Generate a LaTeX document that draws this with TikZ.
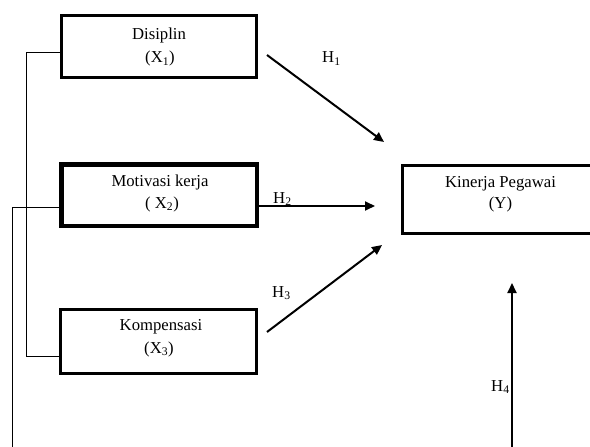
\documentclass[tikz,border=0pt]{standalone}
\usepackage{fontspec}
\setmainfont{Liberation Serif}
\usetikzlibrary{arrows.meta}
\begin{document}
\begin{tikzpicture}[x=1pt,y=-1pt,
  box/.style={draw=black,rectangle,inner sep=0pt,minimum width=195pt,minimum height=62pt},
  txt/.style={anchor=base,inner sep=0pt,font=\fontsize{16.7}{20}\selectfont},
  hlab/.style={anchor=base west,inner sep=0pt,font=\fontsize{16.7}{20}\selectfont},
  arr/.style={line width=2pt,-{Triangle[length=10pt,width=9pt]}},
  thin/.style={line width=1pt}]
\useasboundingbox (0,0) rectangle (590,447);
\clip (0,0) rectangle (590,447);
% boxes
\node[box,line width=3pt] (dis) at (159,46.5) {};
\node[box,line width=4.5pt,minimum width=195.5pt,minimum height=61.5pt] (mot) at (159,195) {};
\node[box,line width=3.3pt,minimum width=196pt,minimum height=64pt] (kom) at (158.5,341.5) {};
\node[box,line width=3.3pt,minimum width=195pt,minimum height=68pt] (kin) at (500,199.5) {};
% texts
\node[txt] (dis1) at (159,39.3) {Disiplin};
\node[txt] (dis2) at (160,62.7) {(X\textsubscript{1})};
\node[txt] (mot1) at (160,186.7) {Motivasi kerja};
\node[txt] (mot2) at (162,208.3) {( X\textsubscript{2})};
\node[txt] (kom1) at (161,330) {Kompensasi};
\node[txt] (kom2) at (159,353) {(X\textsubscript{3})};
\node[txt] (kin1) at (500.5,187) {Kinerja Pegawai};
\node[txt] (kin2) at (500.5,208) {(Y)};
% hypothesis labels
\node[hlab] (h1) at (322,63) {H\textsubscript{1}};
\node[hlab] (h2) at (273,203) {H\textsubscript{2}};
\node[hlab] (h3) at (272,297) {H\textsubscript{3}};
\node[hlab] (h4) at (491,391) {H\textsubscript{4}};
% free ends
\coordinate (a1s) at (267,55);
\coordinate (a1e) at (384,142);
\coordinate (a2s) at (258,206);
\coordinate (a2e) at (375,206);
\coordinate (a3s) at (267,332);
\coordinate (a3e) at (382,245);
\coordinate (a4s) at (512,450);
\coordinate (a4e) at (512,283);
\coordinate (bk1) at (60,52);
\coordinate (bk2) at (26,52);
\coordinate (bk3) at (26,356);
\coordinate (bk4) at (59,356);
\coordinate (ot1) at (60,207);
\coordinate (ot2) at (12,207);
\coordinate (ot3) at (12,450);
% arrows
\draw[arr] (a1s) -- (a1e);
\draw[arr] (a2s) -- (a2e);
\draw[arr] (a3s) -- (a3e);
\draw[arr] (a4s) -- (a4e);
% brackets
\draw[thin] (bk1) -- (bk2) -- (bk3) -- (bk4);
\draw[thin] (ot1) -- (ot2) -- (ot3);
\end{tikzpicture}
\end{document}
